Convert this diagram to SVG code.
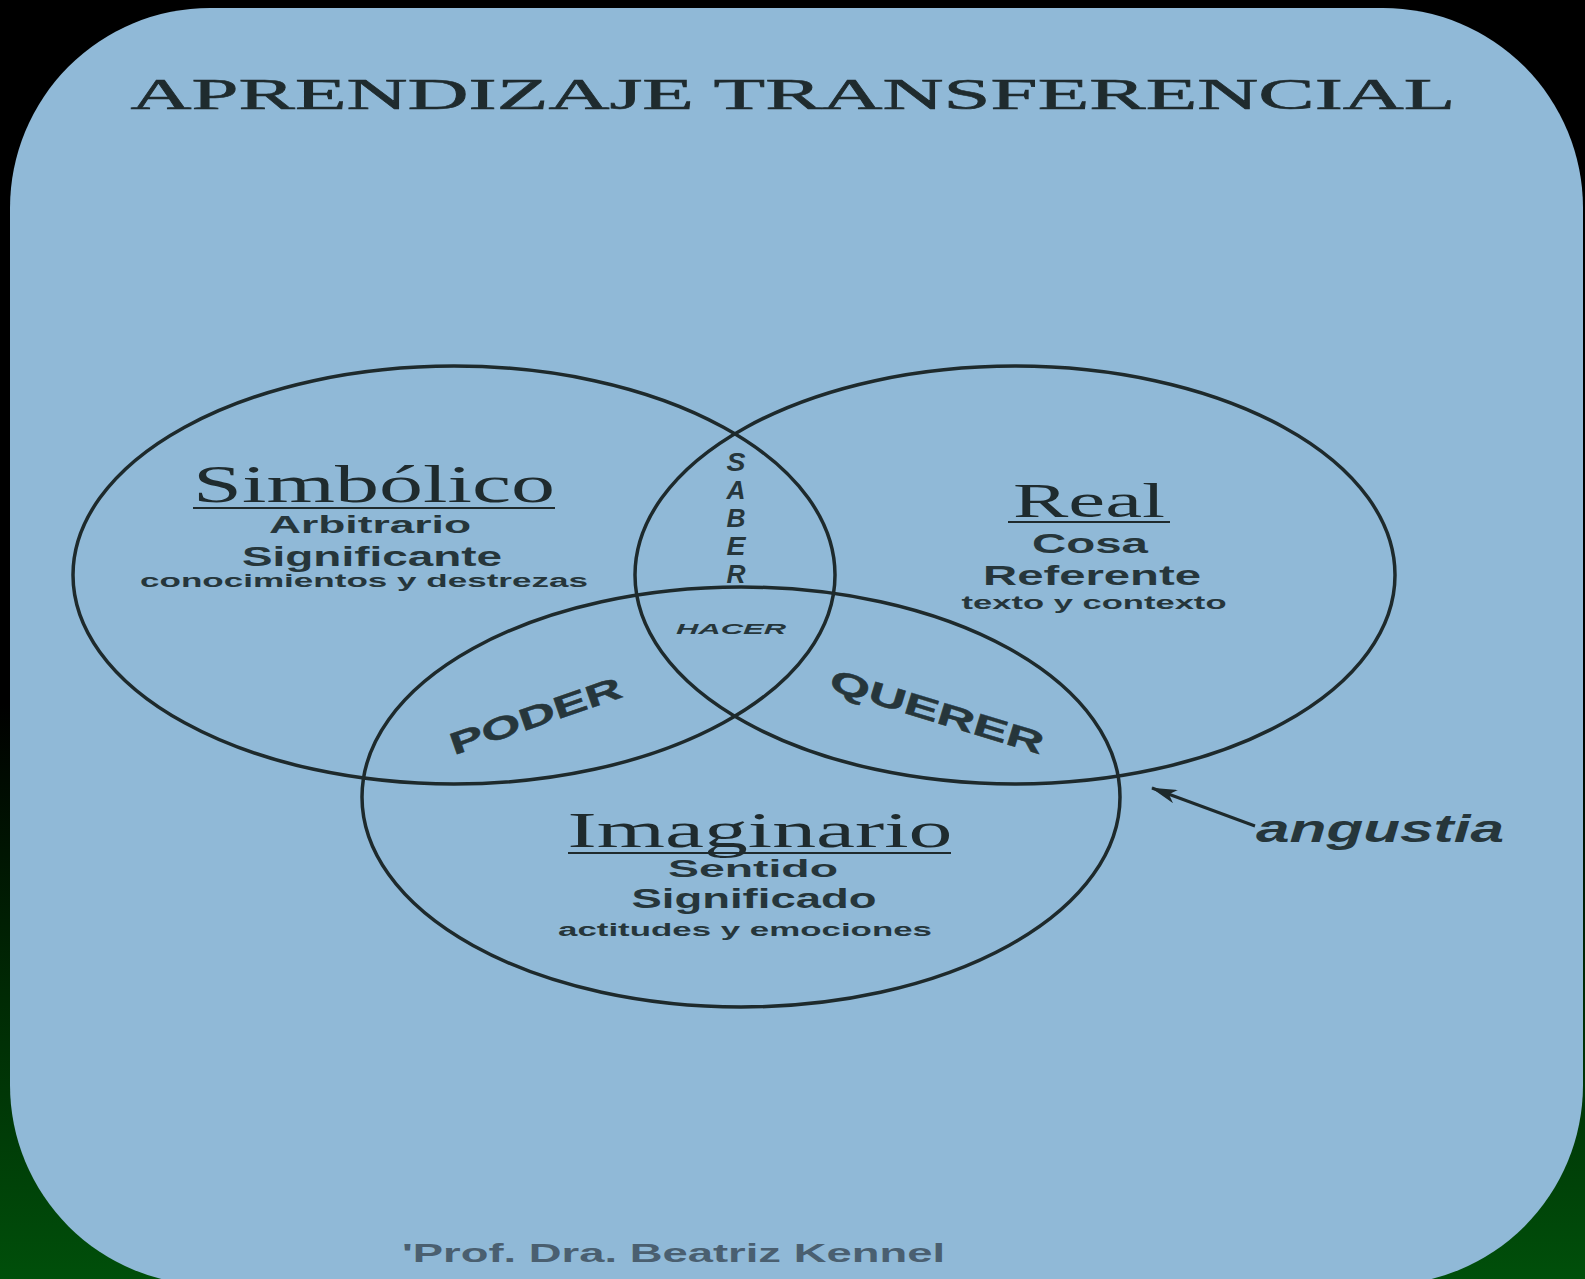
<svg xmlns="http://www.w3.org/2000/svg" width="1585" height="1279" viewBox="0 0 1585 1279">
<defs>
<linearGradient id="bg" x1="0" y1="0" x2="0" y2="1">
<stop offset="0" stop-color="#000000"/>
<stop offset="0.55" stop-color="#000000"/>
<stop offset="0.78" stop-color="#002a04"/>
<stop offset="1" stop-color="#004f0a"/>
</linearGradient>
<marker id="arrow" viewBox="0 0 26 14" refX="25" refY="7" markerWidth="26" markerHeight="14" markerUnits="userSpaceOnUse" orient="auto">
<path d="M0,0 L26,7 L0,14 L7,7 Z" fill="#1e2a2c"/>
</marker>
<style>
.ring{fill:none;stroke:#1e2a2c;stroke-width:3.5}
.serif{font-family:"Liberation Serif","Times New Roman",serif;fill:#1f2b2e;text-anchor:middle}
.sans{font-family:"Liberation Sans",Arial,sans-serif;font-weight:bold;fill:#26363b;text-anchor:middle}
.ul{stroke:#1f2b2e;stroke-width:2}
.it{font-style:italic}
.vl{font-size:25px}
</style>
</defs>
<rect x="0" y="0" width="1585" height="1279" fill="url(#bg)"/>
<rect x="10" y="8" width="1573" height="1277" rx="200" ry="200" fill="#90b9d7"/>

<text class="serif" x="793" y="109" font-size="45" textLength="1325" lengthAdjust="spacingAndGlyphs" stroke="#1f2b2e" stroke-width="0.6">APRENDIZAJE TRANSFERENCIAL</text>

<g id="connectors">
<line x1="1255" y1="826" x2="1152" y2="788" stroke="#1e2a2c" stroke-width="3" marker-end="url(#arrow)"/>
</g>

<g id="simbolico">
<ellipse class="ring" cx="454" cy="575" rx="381" ry="209"/>
<text class="serif" x="374" y="502" font-size="53" textLength="362" lengthAdjust="spacingAndGlyphs">Simbólico</text>
<line class="ul" x1="193" y1="508" x2="555" y2="508"/>
<text class="sans" x="370" y="533" font-size="23" textLength="202" lengthAdjust="spacingAndGlyphs">Arbitrario</text>
<text class="sans" x="372" y="566" font-size="28" textLength="260" lengthAdjust="spacingAndGlyphs">Significante</text>
<text class="sans" x="364" y="587" font-size="18" textLength="448" lengthAdjust="spacingAndGlyphs">conocimientos y destrezas</text>
</g>

<g id="real">
<ellipse class="ring" cx="1015" cy="575" rx="380" ry="209"/>
<text class="serif" x="1089" y="517" font-size="48" textLength="152" lengthAdjust="spacingAndGlyphs">Real</text>
<line class="ul" x1="1008" y1="522" x2="1170" y2="522"/>
<text class="sans" x="1090" y="553" font-size="27" textLength="116" lengthAdjust="spacingAndGlyphs">Cosa</text>
<text class="sans" x="1092" y="585" font-size="28" textLength="218" lengthAdjust="spacingAndGlyphs">Referente</text>
<text class="sans" x="1094" y="609" font-size="18" textLength="265" lengthAdjust="spacingAndGlyphs">texto y contexto</text>
</g>

<g id="imaginario">
<ellipse class="ring" cx="741" cy="797" rx="379" ry="210"/>
<text class="serif" x="760" y="847" font-size="50" textLength="385" lengthAdjust="spacingAndGlyphs">Imaginario</text>
<line class="ul" x1="568" y1="853" x2="951" y2="853"/>
<text class="sans" x="753" y="877" font-size="24" textLength="170" lengthAdjust="spacingAndGlyphs">Sentido</text>
<text class="sans" x="754" y="908" font-size="28" textLength="245" lengthAdjust="spacingAndGlyphs">Significado</text>
<text class="sans" x="745" y="936" font-size="18" textLength="374" lengthAdjust="spacingAndGlyphs">actitudes y emociones</text>
</g>

<g id="saber">
<text class="sans it vl" x="736" y="471" textLength="19" lengthAdjust="spacingAndGlyphs">S</text>
<text class="sans it vl" x="736" y="499" textLength="19" lengthAdjust="spacingAndGlyphs">A</text>
<text class="sans it vl" x="736" y="527" textLength="19" lengthAdjust="spacingAndGlyphs">B</text>
<text class="sans it vl" x="736" y="555" textLength="19" lengthAdjust="spacingAndGlyphs">E</text>
<text class="sans it vl" x="736" y="583" textLength="19" lengthAdjust="spacingAndGlyphs">R</text>
</g>

<g id="hacer">
<text class="sans it" x="731" y="634" font-size="15" textLength="110" lengthAdjust="spacingAndGlyphs">HACER</text>
</g>

<g id="poder">
<text class="sans" x="0" y="0" font-size="31" textLength="180" lengthAdjust="spacingAndGlyphs" transform="translate(539,726) rotate(-19)" stroke="#26363b" stroke-width="0.5">PODER</text>
</g>

<g id="querer">
<text class="sans" x="0" y="0" font-size="31" textLength="222" lengthAdjust="spacingAndGlyphs" transform="translate(934,722) rotate(17)" stroke="#26363b" stroke-width="0.5">QUERER</text>
</g>

<g id="angustia">
<text class="sans it" x="1380" y="842" font-size="38" textLength="248" lengthAdjust="spacingAndGlyphs">angustia</text>
</g>

<g id="credit">
<text x="402" y="1262" font-family="'Liberation Sans',Arial,sans-serif" font-weight="bold" font-size="25" fill="#4a5f70" textLength="543" lengthAdjust="spacingAndGlyphs">'Prof. Dra. Beatriz Kennel</text>
</g>
</svg>
